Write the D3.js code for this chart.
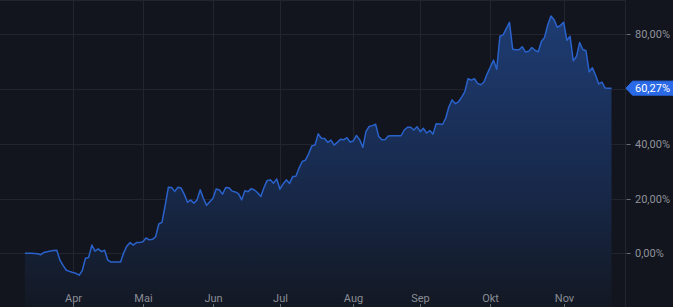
<!DOCTYPE html>
<html><head><meta charset="utf-8">
<script src="https://cdn.jsdelivr.net/npm/d3@7/dist/d3.min.js"></script>
<style>
html,body{margin:0;padding:0;background:#12151d;overflow:hidden}
svg{display:block}
text{font-family:Roboto,"Noto Sans",sans-serif}
</style></head><body>
<script>
// ---- data ----
const startDate = "2025-03-11"; // first trading day (weekdays only)
const values = [
0,0,0,-0.1,-0.2,-0.5,0.3,0.6,0.8,1.0,
1.1,-2.5,-4.5,-6.2,-6.6,-7.0,-7.3,-8.0,-6.3,-1.8,
-1.5,3.0,0.8,1.6,0.6,1.1,-2.5,-3.2,-3.2,-3.2,
-3.2,0.2,2.7,3.9,3.0,3.9,3.9,4.2,5.6,4.9,
5.1,6.0,10.7,11.3,17.5,24.1,24.0,22.6,24.1,23.8,
21.5,18.6,19.4,18.3,19.5,23.2,20.0,17.5,18.8,20.1,
23.5,23.1,21.6,24.0,23.9,22.7,22.4,21.8,19.5,22.8,
22.5,23.6,23.1,22.1,20.7,24.0,26.6,26.8,25.6,27.1,
23.4,25.3,26.8,25.5,28.0,28.1,31.1,33.5,34.0,36.3,
39.2,39.5,43.6,42.0,41.9,40.5,41.3,39.5,40.5,41.6,
41.4,42.2,40.6,41.0,43.0,41.5,38.6,44.5,46.3,46.6,
47.1,42.6,41.4,41.5,42.8,42.9,42.9,42.9,42.9,45.0,
46.0,46.0,45.0,46.2,44.4,45.6,43.9,44.8,43.5,47.3,
47.2,47.0,49.3,53.5,56.0,54.6,55.3,57.0,59.0,63.7,
63.2,63.7,62.0,61.5,62.5,65.5,68.0,70.5,67.2,79.2,
79.7,82.0,84.3,74.5,74.3,74.3,75.4,73.5,73.7,75.1,
74.1,73.5,77.3,78.8,83.3,86.6,85.2,82.5,83.2,84.3,
77.7,79.2,70.3,71.8,76.9,74.4,73.9,66.2,67.7,65.0,
61.8,62.5,60.3,60.27,60.27
];
const monthLabels = ["Apr","Mai","Jun","Jul","Aug","Sep","Okt","Nov"];
const monthNumbers = [3,4,5,6,7,8,9,10];
const yTicks = [0,20,40,60,80];
const lastLabel = "60,27%";

// ---- setup ----
const W = 673, H = 307;
const axisX = 625.5;
const de = d3.formatLocale({decimal:",", thousands:".", grouping:[3], currency:["","€"]});
const fmt = v => de.format(".2f")(v) + "%";

// trading-day dates (weekdays) for each value
const dates = [];
{
  let d = new Date(startDate + "T00:00:00");
  while (dates.length < values.length) {
    const wd = d.getDay();
    if (wd !== 0 && wd !== 6) dates.push(new Date(d));
    d.setDate(d.getDate() + 1);
  }
}
const data = values.map((v,i)=>({i, v, date: dates[i]}));

const x = d3.scaleLinear().domain([0, values.length-1]).range([24.9, 611.5]);
const y = d3.scaleLinear().domain([0, 80]).range([253.3, 34.1]);

const svg = d3.select("body").append("svg").attr("width",W).attr("height",H);
svg.append("rect").attr("width",W).attr("height",H).attr("fill","#12151d");

const defs = svg.append("defs");
const grad = defs.append("linearGradient").attr("id","ag")
  .attr("gradientUnits","userSpaceOnUse").attr("x1",0).attr("x2",0)
  .attr("y1", y(d3.max(values))).attr("y2", H);
grad.append("stop").attr("offset","0%").attr("stop-color","#1e3c72");
grad.append("stop").attr("offset","55%").attr("stop-color","#182a4d");
grad.append("stop").attr("offset","100%").attr("stop-color","#131823");

// grid
const gridColor = "#22252e";
const g = svg.append("g");
g.append("line").attr("x1",0).attr("x2",W).attr("y1",0.5).attr("y2",0.5).attr("stroke",gridColor);
yTicks.forEach(t=>{
  g.append("line").attr("x1",0).attr("x2",axisX).attr("y1",Math.round(y(t))+0.5).attr("y2",Math.round(y(t))+0.5)
   .attr("stroke",gridColor).attr("stroke-width",1);
});
const monthIdx = monthNumbers.map(m => data.findIndex(d => d.date.getMonth() === m));
monthIdx.forEach(i=>{
  const px = Math.round(x(i))+0.5;
  g.append("line").attr("x1",px).attr("x2",px).attr("y1",0).attr("y2",H).attr("stroke",gridColor);
});

// area + line
const area = d3.area().x(d=>x(d.i)).y0(H).y1(d=>y(d.v)).curve(d3.curveLinear);
const line = d3.line().x(d=>x(d.i)).y(d=>y(d.v)).curve(d3.curveLinear);
svg.append("path").datum(data).attr("d",area).attr("fill","url(#ag)");
svg.append("path").datum(data).attr("d",line).attr("fill","none")
  .attr("stroke","#2a62cc").attr("stroke-width",1.5).attr("stroke-linejoin","round");

// right axis
svg.append("rect").attr("x",axisX).attr("y",0).attr("width",W-axisX).attr("height",H).attr("fill","#12151d");
svg.append("line").attr("x1",axisX).attr("x2",axisX).attr("y1",0).attr("y2",H).attr("stroke",gridColor);
yTicks.forEach(t=>{
  const py = Math.round(y(t))+0.5;
  svg.append("line").attr("x1",axisX+1).attr("x2",axisX+5).attr("y1",py).attr("y2",py).attr("stroke","#6a6d76");
  svg.append("text").attr("x",635).attr("y",py).attr("dy","0.35em")
    .attr("font-size",11).attr("fill","#8f929b").text(fmt(t));
});

// bottom month labels
monthIdx.forEach((i,k)=>{
  const px = Math.round(x(i))+0.5;
  svg.append("text").attr("x",px).attr("y",298).attr("dy","0.35em").attr("text-anchor","middle")
    .attr("font-size",11).attr("fill","#8a8d96").text(monthLabels[k]);
  svg.append("line").attr("x1",px).attr("x2",px).attr("y1",304).attr("y2",H).attr("stroke","#6a6d76");
});

// last value tag
const ly = y(values[values.length-1]);
const tag = svg.append("g");
tag.append("path").attr("d",`M${axisX+0.5},${ly} L${axisX+7},${ly-7} L${W},${ly-7} L${W},${ly+7} L${axisX+7},${ly+7} Z`)
  .attr("fill","#2b6ae6").attr("stroke","#2b6ae6").attr("stroke-width",1).attr("stroke-linejoin","round");
tag.append("text").attr("x",635).attr("y",ly).attr("dy","0.35em").attr("font-size",11)
  .attr("fill","#ffffff").text(lastLabel);
</script>
</body></html>
